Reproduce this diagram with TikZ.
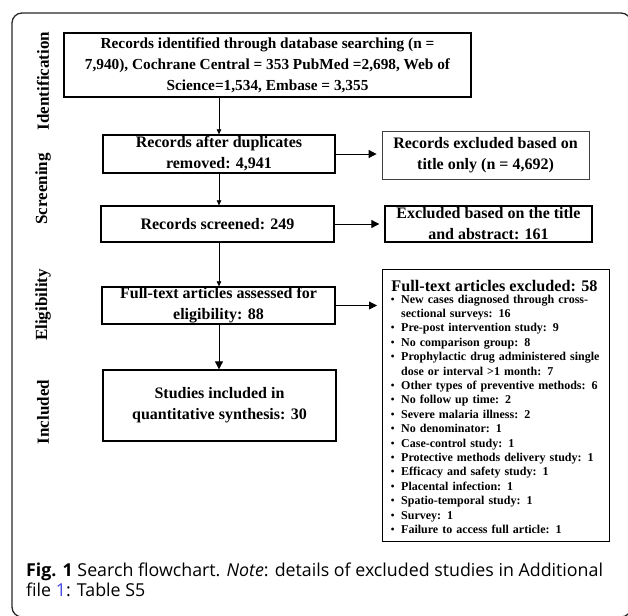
\documentclass[tikz,border=0pt]{standalone}
\usepackage{fontspec}
\setmainfont{Liberation Serif}
\newfontfamily\capfont{Open Sans}
\usetikzlibrary{arrows.meta}
\definecolor{linkblue}{RGB}{70,70,230}
\definecolor{framegray}{RGB}{40,40,40}
\begin{document}
\begin{tikzpicture}[x=1pt,y=-1pt,
  box/.style={draw, line width=1.3pt, align=center, inner sep=0pt,
    font=\fontsize{16}{21}\selectfont\bfseries},
  lightbox/.style={box, draw=black!75, line width=0.8pt},
  side/.style={rotate=90, font=\fontsize{17}{20}\selectfont\bfseries},
  smallarr/.style={-{Triangle[length=5pt,width=4.5pt]}, line width=0.7pt},
  bigarr/.style={-{Triangle[length=8pt,width=8pt]}, line width=0.8pt},
  harr/.style={bigarr, shorten >=5pt}
]
\useasboundingbox (0,0) rectangle (628,615);
\draw[framegray, line width=1.3pt, rounded corners=10pt] (12,13) rectangle (631,617);

% side labels
\node[side] (lid) at (43,81) {Identification};
\node[side] (lsc) at (43,189) {Screening};
\node[side] (lel) at (43,305) {Eligibility};
\node[side] (lin) at (43,412) {Included};

% boxes
\node[box, minimum width=407pt, minimum height=64pt,
  font=\fontsize{15.3}{21}\selectfont\bfseries] (b1) at (267.5,65)
  {Records identified through database searching (n =\\7,940), Cochrane Central = 353 PubMed =2,698, Web of\\Science=1,534, Embase = 3,355};
\node[box, minimum width=232pt, minimum height=38pt] (b2) at (219,154)
  {Records after duplicates\\removed: 4,941};
\node[lightbox, minimum width=207pt, minimum height=48pt] (e1) at (485.5,155)
  {Records excluded based on\\title only (n = 4,692)};
\node[box, minimum width=233pt, minimum height=36pt] (b3) at (217.5,224)
  {Records screened: 249};
\node[box, minimum width=207pt, minimum height=36pt] (e2) at (488.5,224)
  {Excluded based on the title\\and abstract: 161};
\node[box, minimum width=233pt, minimum height=37pt] (b4) at (218.5,305.5)
  {Full-text articles assessed for\\eligibility: 88};
\node[box, minimum width=233pt, minimum height=71pt] (b5) at (219.5,405.5)
  {Studies included in\\quantitative synthesis: 30};

\newcommand{\exitem}[1]{\hangindent=10.5pt\hangafter=1\noindent\makebox[10.5pt][l]{{\mdseries\textbullet}}#1\par}
\node[box, minimum width=227pt, minimum height=272pt, anchor=north west,
  inner sep=0pt] (e3) at (382,268.5) {};
\node[anchor=base, inner sep=0pt, font=\fontsize{16.2}{20}\selectfont\bfseries] (e3h) at (494.5,291)
  {Full-text articles excluded: 58};
\node[anchor=north west, inner sep=0pt, text width=222pt, align=left,
  font=\fontsize{12}{14.4}\selectfont\bfseries] (e3t) at (390.5,294.5)
  {\exitem{New cases diagnosed through cross-\newline sectional surveys: 16}
   \exitem{Pre-post intervention study: 9}
   \exitem{No comparison group: 8}
   \exitem{Prophylactic drug administered single\newline dose or interval >1 month: 7}
   \exitem{Other types of preventive methods: 6}
   \exitem{No follow up time: 2}
   \exitem{Severe malaria illness: 2}
   \exitem{No denominator: 1}
   \exitem{Case-control study: 1}
   \exitem{Protective methods delivery study: 1}
   \exitem{Efficacy and safety study: 1}
   \exitem{Placental infection: 1}
   \exitem{Spatio-temporal study: 1}
   \exitem{Survey: 1}
   \exitem{Failure to access full article: 1}};

% connectors
\draw[smallarr] (b1.south -| b2.north) -- (b2.north);
\draw[smallarr] (b2.south) -- (b3.north -| b2.south);
\draw[smallarr] (b3.south -| b2.south) -- (b4.north -| b2.south);
\draw[bigarr] (b4.south -| b2.south) -- (b5.north -| b2.south);
\draw[harr] (b2.east) -- (e1.west |- b2.east);
\draw[harr] (b3.east) -- (e2.west);
\draw[harr] (b4.east) -- (e3.west |- b4.east);

% caption
\node[anchor=base west, inner sep=0pt, font=\capfont\fontsize{17.8}{20}\selectfont] (cap1) at (26,576)
  {\textbf{Fig. 1} Search flowchart. \textit{Note}: details of excluded studies in Additional};
\node[anchor=base west, inner sep=0pt, font=\capfont\fontsize{17.8}{20}\selectfont] (cap2) at (26,596)
  {file \textcolor{linkblue}{1}: Table S5};
\end{tikzpicture}
\end{document}
